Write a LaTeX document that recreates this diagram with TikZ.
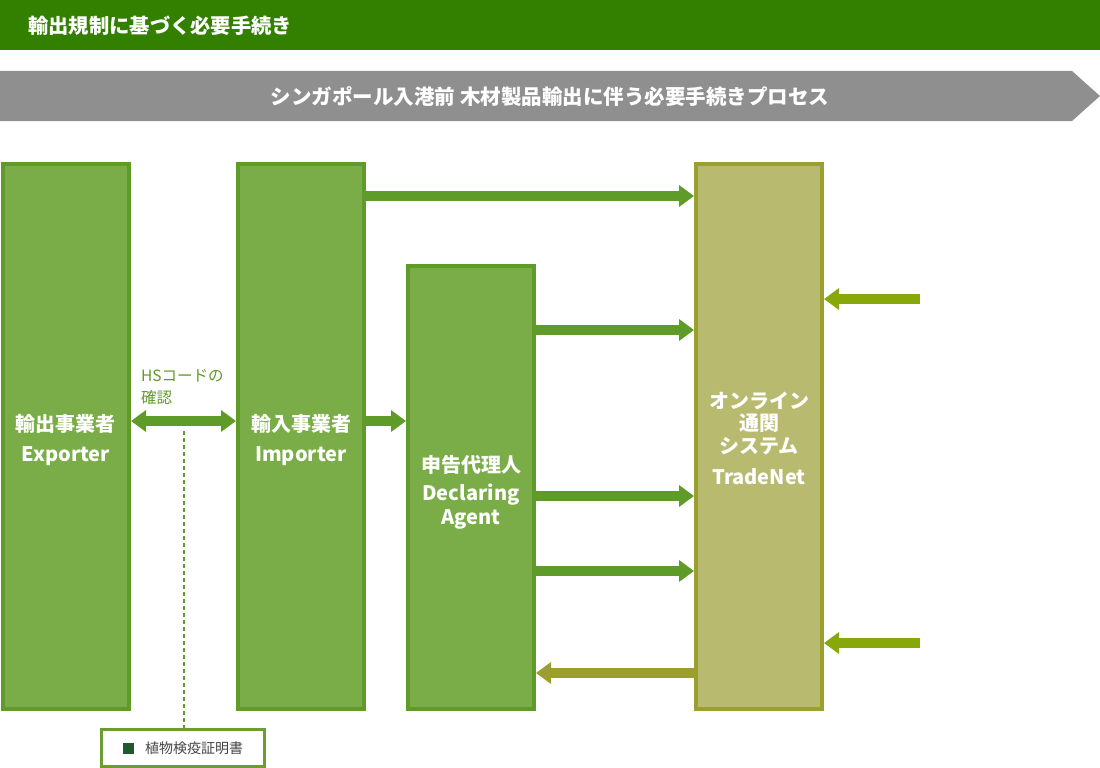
\documentclass[tikz,border=0pt]{standalone}
\usepackage{fontspec}
\setmainfont{Noto Sans CJK JP}
\usetikzlibrary{arrows.meta}
\definecolor{hdr}{HTML}{338000}
\definecolor{bannergray}{HTML}{8F8F8F}
\definecolor{boxfill}{HTML}{7AAD47}
\definecolor{boxline}{HTML}{5F9B28}
\definecolor{tnfill}{HTML}{B8BB6F}
\definecolor{tnline}{HTML}{9B9F2D}
\definecolor{garrowc}{HTML}{5F9B28}
\definecolor{retarrowc}{HTML}{9C9F2C}
\definecolor{limearrowc}{HTML}{88A80A}
\definecolor{hstext}{HTML}{5F9B28}
\definecolor{legline}{HTML}{6A9E2F}
\definecolor{legsq}{HTML}{1E5A2E}
\definecolor{legtext}{HTML}{444444}
\begin{document}
\begin{tikzpicture}[x=1pt,y=-1pt,
  box/.style={draw=boxline, fill=boxfill, line width=4pt, minimum width=126pt, inner sep=0pt},
  tnbox/.style={box, draw=tnline, fill=tnfill},
  boxtext/.style={inner sep=0pt, text=white, align=center, font=\bfseries\fontsize{20}{24}\selectfont},
  tntext/.style={boxtext, font=\bfseries\fontsize{20}{22.5}\selectfont},
  fat/.style={line width=10pt, -{Triangle[length=15pt,width=21pt]}},
  garr/.style={fat, color=garrowc},
  retarr/.style={fat, color=retarrowc},
  limearr/.style={fat, color=limearrowc},
  dbl/.style={line width=10pt, color=garrowc, {Triangle[length=15pt,width=21pt]}-{Triangle[length=15pt,width=21pt]}},
  dotline/.style={draw=garrowc, line width=2.5pt, dash pattern=on 4pt off 3pt}
]
\useasboundingbox (0,0) rectangle (1100,768);
% header
\fill[hdr] (0,0) rectangle (1100,50);
\node[anchor=west, text=white, inner sep=0pt, font=\bfseries\fontsize{20.3}{22}\selectfont] (title) at (28,26) {輸出規制に基づく必要手続き};
% banner
\fill[bannergray] (0,71) -- (1072,71) -- (1100,96) -- (1072,121) -- (0,121) -- cycle;
\node[text=white, inner sep=0pt, font=\bfseries\fontsize{20.5}{22}\selectfont] (ban) at (550,97) {シンガポール入港前 木材製品輸出に伴う必要手続きプロセス};
% boxes
\node[box, minimum height=545pt] (exp) at (66,436.5) {};
\node[box, minimum height=545pt] (imp) at (301,436.5) {};
\node[box, minimum height=443pt] (agt) at (471,487.5) {};
\node[tnbox, minimum height=545pt] (tn) at (759,436.5) {};
\node[boxtext] (exptxt) at (exp.center |- 0,440) {輸出事業者\\[6pt]Exporter};
\node[boxtext] (imptxt) at (imp.center |- 0,440) {輸入事業者\\[6pt]Importer};
\node[boxtext] (agttxt) at (agt.center |- 0,492) {申告代理人\\[4pt]Declaring\\Agent};
\node[tntext] (tntxt) at (tn.center |- 0,438) {オンライン\\通関\\システム\\[8.5pt]TradeNet};
% arrows
\coordinate (a1) at (0,196);
\draw[garr] (imp.east |- a1) -- (tn.west |- a1);
\coordinate (a2) at (0,330);
\draw[garr] (agt.east |- a2) -- (tn.west |- a2);
\coordinate (a3) at (0,496);
\draw[garr] (agt.east |- a3) -- (tn.west |- a3);
\coordinate (a4) at (0,571);
\draw[garr] (agt.east |- a4) -- (tn.west |- a4);
\coordinate (a5) at (0,673);
\draw[retarr] (tn.west |- a5) -- (agt.east |- a5);
\coordinate (a6) at (0,421);
\draw[garr] (imp.east |- a6) -- (agt.west |- a6);
\draw[dbl] (exp.east |- a6) -- (imp.west |- a6);
\coordinate (in1) at (920,299);
\draw[limearr] (in1) -- (tn.east |- in1);
\coordinate (in2) at (920,643);
\draw[limearr] (in2) -- (tn.east |- in2);
% HS label
\node[anchor=west, align=left, inner sep=0pt, text=hstext, font=\fontsize{15.5}{22}\selectfont] (hs) at (141,387) {HSコードの\\確認};
% legend
\node[draw=legline, fill=white, line width=3pt, minimum width=163pt, minimum height=36.5pt, inner sep=0pt, text=legtext, font=\fontsize{14}{16}\selectfont] (leg) at (183,748) {\textcolor{legsq}{\rule[-0.5pt]{11pt}{11pt}}\hspace{11pt}植物検疫証明書};
\coordinate (dtop) at (184,431);
\draw[dotline] (dtop) -- (dtop |- leg.north);
\end{tikzpicture}
\end{document}
